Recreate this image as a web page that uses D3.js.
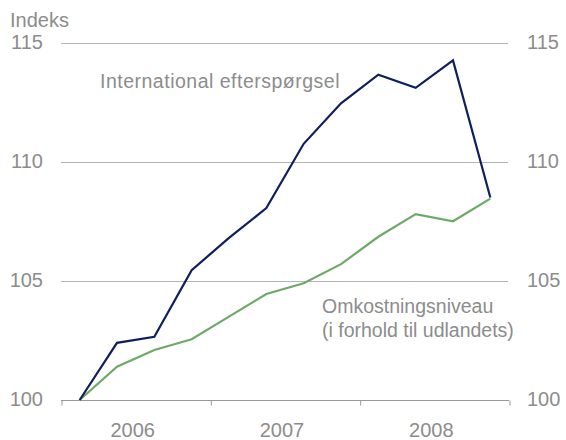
<!DOCTYPE html>
<html>
<head>
<meta charset="utf-8">
<script src="https://cdn.jsdelivr.net/npm/d3@7"></script>
<style>
  body { margin: 0; background: #fff; }
  svg text { font-family: "Liberation Sans", Arial, sans-serif; fill: #8c8c8c; }
</style>
</head>
<body>
<script>
(function() {

  // quarters 2006K1 .. 2008K4
  var years = [2006, 2007, 2008];
  var quarters = ["2006K1","2006K2","2006K3","2006K4","2007K1","2007K2","2007K3","2007K4","2008K1","2008K2","2008K3","2008K4"];
  var efterspoergsel = [100, 102.4, 102.65, 105.45, 106.8, 108.05, 110.75, 112.45, 113.65, 113.1, 114.25, 108.5];
  var omkostninger = [100, 101.4, 102.1, 102.55, 103.5, 104.45, 104.9, 105.7, 106.85, 107.8, 107.5, 108.45];
  var yTicks = [100, 105, 110, 115];

  var width = 566, height = 440;
  var left = 61, right = 509, top = 42.5, bottom = 400;

  var svg = d3.select("body").append("svg")
      .attr("width", width)
      .attr("height", height);

  var x = d3.scaleBand().domain(quarters).range([left, right]);
  var xYear = d3.scaleLinear().domain([years[0], years[years.length - 1] + 1]).range([left, right]);
  var y = d3.scaleLinear().domain([100, 115]).range([bottom, top]);

  // gridlines
  svg.append("g")
    .selectAll("line")
    .data(yTicks.slice(1))
    .enter().append("line")
      .attr("x1", left)
      .attr("x2", right - 1)
      .attr("y1", function(d) { return Math.round(y(d)) + 0.5; })
      .attr("y2", function(d) { return Math.round(y(d)) + 0.5; })
      .attr("stroke", "#b4b4b4")
      .attr("stroke-width", 1);

  // x axis: ticks on year boundaries
  var xAxis = svg.append("g")
      .attr("transform", "translate(0," + (bottom + 0.5) + ")")
      .call(d3.axisBottom(xYear)
        .tickValues(d3.range(years[0], years[years.length - 1] + 2))
        .tickSize(5)
        .tickFormat(""));
  xAxis.select(".domain").attr("stroke", "#999").attr("d", "M" + left + ",0H" + right);
  xAxis.selectAll(".tick line").attr("stroke", "#999").attr("transform", "translate(0.5,0)");

  // year labels in the middle of each year
  svg.append("g")
    .selectAll("text")
    .data(years)
    .enter().append("text")
      .attr("x", function(d) { return xYear(d + 0.5) - 3; })
      .attr("y", 437)
      .attr("text-anchor", "middle")
      .style("font-size", "20px")
      .text(function(d) { return d; });

  // left and right value labels
  svg.append("g")
    .selectAll("text")
    .data(yTicks)
    .enter().append("text")
      .attr("x", 43)
      .attr("y", function(d) { return y(d) + 6; })
      .attr("text-anchor", "end")
      .style("font-size", "20px")
      .text(function(d) { return d; });

  svg.append("g")
    .selectAll("text")
    .data(yTicks)
    .enter().append("text")
      .attr("x", 527)
      .attr("y", function(d) { return y(d) + 6; })
      .attr("text-anchor", "start")
      .style("font-size", "20px")
      .text(function(d) { return d; });

  svg.append("text")
    .attr("x", 10)
    .attr("y", 27)
    .style("font-size", "20px")
    .text("Indeks");

  // lines
  var line = function(values) {
    return d3.line()
      .x(function(d, i) { return x(quarters[i]) + x.bandwidth() / 2; })
      .y(function(d) { return y(d); })(values);
  };

  svg.append("path")
    .attr("d", line(omkostninger))
    .attr("fill", "none")
    .attr("stroke", "#6fa96a")
    .attr("stroke-width", 2.2);

  svg.append("path")
    .attr("d", line(efterspoergsel))
    .attr("fill", "none")
    .attr("stroke", "#0f1f5c")
    .attr("stroke-width", 2.2);

  // series labels
  svg.append("text")
    .attr("x", 100)
    .attr("y", 88)
    .style("font-size", "19.5px")
    .style("letter-spacing", "0.5px")
    .text("International efterspørgsel");

  svg.append("text")
    .attr("x", 322)
    .attr("y", 313)
    .style("font-size", "19.5px")
    .text("Omkostningsniveau");

  svg.append("text")
    .attr("x", 322)
    .attr("y", 337)
    .style("font-size", "19.5px")
    .text("(i forhold til udlandets)");

})();
</script>
</body>
</html>
